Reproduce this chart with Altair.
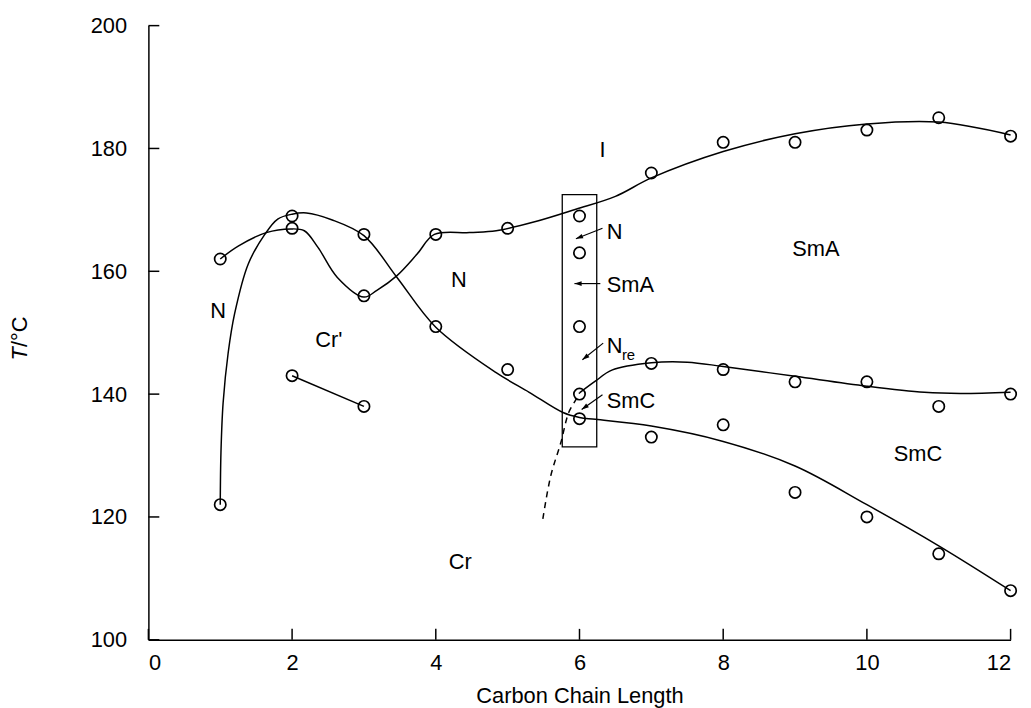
import math
import altair as alt
import pandas as pd

FONT = "Liberation Sans"
FS = 22

# ---- data ----
pt_x = [1, 1, 2, 2, 2, 3, 3, 3, 4, 4, 5, 5, 6, 6, 6, 6, 6, 7, 7, 7, 8, 8, 8,
        9, 9, 9, 10, 10, 10, 11, 11, 11, 12, 12, 12]
pt_y = [162, 122, 169, 167, 143, 166, 156, 138, 166, 151, 167, 144, 169, 163, 151, 140, 136,
        176, 145, 133, 181, 144, 135, 181, 142, 124, 183, 142, 120, 185, 138, 114, 182, 140, 108]

# upper boundary (N / I, SmA / I)
c1_x = [1, 1.25, 1.64, 1.98, 2.17, 2.36, 2.63, 3, 3.18, 3.46, 3.74, 3.98, 4.47, 4.84,
        5.39, 5.95, 6.5, 7, 8, 9, 10, 11, 12]
c1_y = [162, 164.1, 166.3, 166.9, 166.6, 163.9, 159, 155.8, 156.9, 159.3, 162.8, 166,
        166.3, 166.6, 168.1, 170.1, 172.2, 175.2, 179.5, 182.4, 184, 184.3, 182.2]

# melting boundary
c2_x = [1, 1.01, 1.04, 1.11, 1.2, 1.39, 1.62, 1.8, 2, 2.2, 2.55, 3, 3.46, 4, 4.84, 5.3,
        5.77, 6, 6.22, 7, 8, 9, 10, 11, 12]
c2_y = [122, 130.5, 138.6, 146.7, 153.1, 161.2, 166, 168.5, 169.3, 169.5, 168.4, 165.8, 159,
        150.9, 143.5, 140.3, 137, 136.2, 135.9, 134.8, 132.3, 128.3, 122, 115.3, 108]

# SmA / SmC boundary
c3_x = [6, 6.22, 6.45, 7, 7.5, 8, 9, 10, 10.8, 11.3, 12]
c3_y = [140.2, 142.1, 143.9, 145.1, 145.2, 144.5, 142.9, 141.3, 140.3, 140.1, 140.3]

# dashed extrapolation
d_x = [5.49, 5.6, 5.74, 5.85, 5.95, 6]
d_y = [119.7, 126.7, 132.1, 137, 139.1, 140.2]

# Cr' segment
s_x = [2, 3]
s_y = [143, 138]

# box around C6
box_x, box_x2, box_y, box_y2 = [5.76], [6.24], [131.4], [172.5]

# arrows (start -> tip)
ar_x0 = [6.32, 6.29, 6.33, 6.32]
ar_y0 = [167.0, 158.0, 148.3, 139.9]
ar_x1 = [5.95, 5.93, 6.04, 6.03]
ar_y1 = [165.3, 158.0, 145.6, 137.5]

# region labels (centered)
lab_text = ["I", "SmA", "N", "N", "Cr'", "SmC", "Cr"]
lab_x = [6.32, 9.29, 4.32, 0.97, 2.51, 10.71, 4.34]
lab_y = [179.8, 163.7, 158.6, 153.5, 148.8, 130.2, 112.6]

# labels inside the box annotation (left aligned)
blab_text = ["N", "SmA", "N", "SmC"]
blab_x = [6.38, 6.38, 6.38, 6.38]
blab_y = [166.4, 157.7, 147.8, 138.9]
sub_text = ["re"]
sub_x = [6.59]
sub_y = [146.3]

x_ticks = [0, 2, 4, 6, 8, 10, 12]
y_ticks = [100, 120, 140, 160, 180, 200]

W, H = 869, 619
XD, YD = [0, 12], [100, 200]
sx = W / (XD[1] - XD[0])
sy = H / (YD[1] - YD[0])

xs = alt.Scale(domain=XD, nice=False, zero=False)
ys = alt.Scale(domain=YD, nice=False, zero=False)

def line_df(xv, yv):
    return pd.DataFrame({"x": xv, "y": yv})

X = lambda **k: alt.X("x:Q", scale=xs, **k)
Y = lambda **k: alt.Y("y:Q", scale=ys, **k)

base_axis_x = alt.Axis(values=x_ticks, format="d", ticks=False, grid=False, domainColor="black",
                       domainWidth=1.5, labelFont=FONT, labelFontSize=FS, labelColor="black",
                       labelPadding=13, title="Carbon Chain Length", titleFont=FONT,
                       titleFontSize=FS, titleFontWeight="normal", titleColor="black",
                       titlePadding=12)
base_axis_y = alt.Axis(values=y_ticks, format="d", ticks=False, grid=False, domainColor="black",
                       domainWidth=1.5, labelFont=FONT, labelFontSize=FS, labelColor="black",
                       labelPadding=22, title=None)

stroke = dict(color="black", strokeWidth=1.5)

points = alt.Chart(line_df(pt_x, pt_y)).mark_point(
    shape="circle", size=130, filled=False, color="black", strokeWidth=1.7, opacity=1
).encode(x=X(axis=base_axis_x), y=Y(axis=base_axis_y))

curves = []
for cx, cy in [(c1_x, c1_y), (c2_x, c2_y), (c3_x, c3_y)]:
    curves.append(alt.Chart(line_df(cx, cy)).mark_line(interpolate="catmull-rom", **stroke)
                  .encode(x=X(), y=Y(), order="x:Q"))
dashed = alt.Chart(line_df(d_x, d_y)).mark_line(
    interpolate="catmull-rom", strokeDash=[6, 5], **stroke).encode(x=X(), y=Y(), order="x:Q")
seg = alt.Chart(line_df(s_x, s_y)).mark_line(**stroke).encode(x=X(), y=Y())

box = alt.Chart(pd.DataFrame({"x": box_x, "x2": box_x2, "y": box_y, "y2": box_y2})).mark_rect(
    fill=None, stroke="black", strokeWidth=1.3
).encode(x=X(), x2="x2:Q", y=Y(), y2="y2:Q")

ang = []
for a, b, c, d in zip(ar_x0, ar_y0, ar_x1, ar_y1):
    dx = (c - a) * sx
    dy = -(d - b) * sy
    ang.append(math.degrees(math.atan2(dx, -dy)) % 360)
adf = pd.DataFrame({"x": ar_x0, "y": ar_y0, "x2": ar_x1, "y2": ar_y1, "ang": ang})
arrow_lines = alt.Chart(adf).mark_rule(color="black", strokeWidth=1.2).encode(
    x=X(), y=Y(), x2="x2:Q", y2="y2:Q")
arrow_heads = alt.Chart(adf).mark_point(
    shape="M0,0L-0.8,2.4L0.8,2.4Z", filled=True, color="black", size=36, opacity=1
).encode(x=alt.X("x2:Q", scale=xs), y=alt.Y("y2:Q", scale=ys),
         angle=alt.Angle("ang:Q", scale=None))

labels = alt.Chart(pd.DataFrame({"x": lab_x, "y": lab_y, "t": lab_text})).mark_text(
    font=FONT, fontSize=FS, color="black", align="center", baseline="middle"
).encode(x=X(), y=Y(), text="t:N")
blabels = alt.Chart(pd.DataFrame({"x": blab_x, "y": blab_y, "t": blab_text})).mark_text(
    font=FONT, fontSize=FS, color="black", align="left", baseline="middle"
).encode(x=X(), y=Y(), text="t:N")
sublabel = alt.Chart(pd.DataFrame({"x": sub_x, "y": sub_y, "t": sub_text})).mark_text(
    font=FONT, fontSize=15, color="black", align="left", baseline="middle"
).encode(x=X(), y=Y(), text="t:N")

# inward ticks
xt = alt.Chart(pd.DataFrame({"x": x_ticks})).mark_rule(color="black", strokeWidth=1.5).encode(
    x=X(), y=alt.value(H), y2=alt.value(H - 11))
yt = alt.Chart(pd.DataFrame({"y": y_ticks})).mark_rule(color="black", strokeWidth=1.5).encode(
    y=Y(), x=alt.value(0), x2=alt.value(11))

# y-axis title: italic T + "/°C"
yt1 = alt.Chart(pd.DataFrame({"t": ["T"]})).mark_text(
    font=FONT, fontSize=FS, fontStyle="italic", color="black", angle=270,
    align="right", baseline="middle"
).encode(text="t:N", x=alt.value(-129), y=alt.value(324))
yt2 = alt.Chart(pd.DataFrame({"t": ["/°C"]})).mark_text(
    font=FONT, fontSize=FS, color="black", angle=270, align="left", baseline="middle"
).encode(text="t:N", x=alt.value(-129), y=alt.value(324))

chart = alt.layer(
    box, *curves, dashed, seg, arrow_lines, arrow_heads, points, labels, blabels, sublabel,
    xt, yt, yt1, yt2
).properties(
    width=W, height=H,
    autosize=alt.AutoSizeParams(type="none"),
    padding={"left": 141.5, "top": 15, "right": 12.5, "bottom": 68},
    background="white",
).configure_view(stroke=None)

chart.save("out.html", embed_options={"renderer": "svg", "actions": False})
